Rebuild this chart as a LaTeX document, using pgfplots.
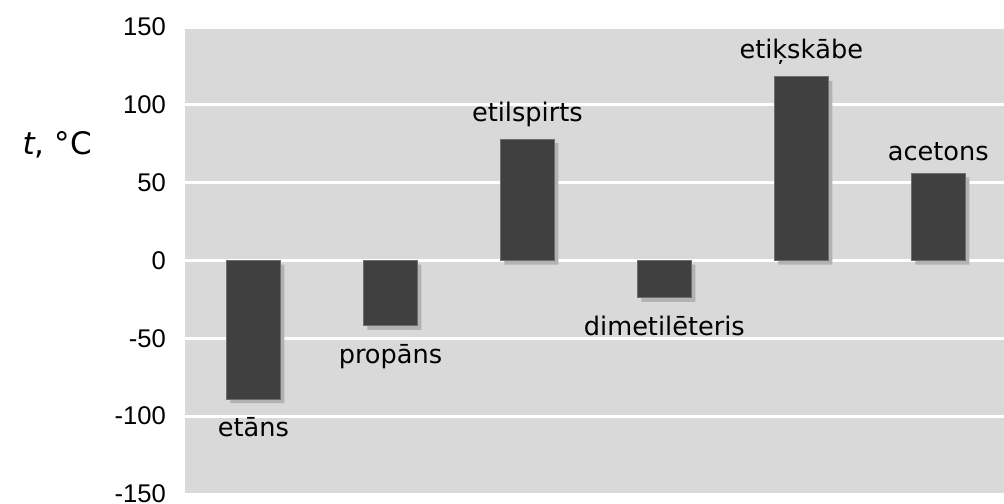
\documentclass[border=0pt]{standalone}
\usepackage{pgfplots}
\pgfplotsset{compat=1.18}
\usepackage{fontspec}
\setmainfont{DejaVu Sans}
\newfontfamily\arialf{Liberation Sans}
\definecolor{bg}{RGB}{217,217,217}
\definecolor{barc}{RGB}{64,64,64}
\definecolor{bare}{RGB}{110,110,110}
\definecolor{shad}{RGB}{178,178,178}
\begin{document}
\begin{tikzpicture}
\begin{axis}[
 scale only axis, width=409.5pt, height=233.5pt,
 xmin=-0.5, xmax=5.48, ymin=-150, ymax=150,
 ytick={-150,-100,...,150},
 xtick=\empty,
 major tick length=0pt,
 axis line style={draw=none},
 ymajorgrids, major grid style={white, line width=1.5pt},
 axis background/.style={fill=bg},
 /pgf/number format/assume math mode=true,
 yticklabel style={font=\arialf\fontsize{12.8}{15}\selectfont, xshift=-6pt},
 ybar, bar width=27pt, bar shift=0pt,
 clip=false,
]
\addplot[fill=shad, draw=none, xshift=2pt, yshift=-2pt] coordinates {(0,-89)(1,-42)(2,78)(3,-24)(4,118)(5,56)};
\addplot[fill=barc, draw=bare, line width=0.5pt,
  visualization depends on={y \as \rawy},
  nodes near coords, point meta=explicit symbolic,
  nodes near coords style={font=\fontsize{12.8}{15}\selectfont, text=black, inner sep=6pt,
    anchor={\ifdim\rawy pt<0pt north\else south\fi},
    yshift={\ifdim\rawy pt<0pt -3pt\else 0pt\fi}}]
  coordinates {(0,-89)[etāns] (1,-42)[propāns] (2,78)[etilspirts] (3,-24)[dimetilēteris] (4,118)[etiķskābe] (5,56)[acetons]};
\node[font=\fontsize{15.5}{18}\selectfont] at (rel axis cs:-0.156,0.747) {\textit{t}, °C};
\coordinate (sw) at (rel axis cs:0,0);
\end{axis}
\pgfresetboundingbox
\path (sw) ++(-92.5pt,-4.5pt) rectangle ++(502pt,251.5pt);
\end{tikzpicture}
\end{document}
